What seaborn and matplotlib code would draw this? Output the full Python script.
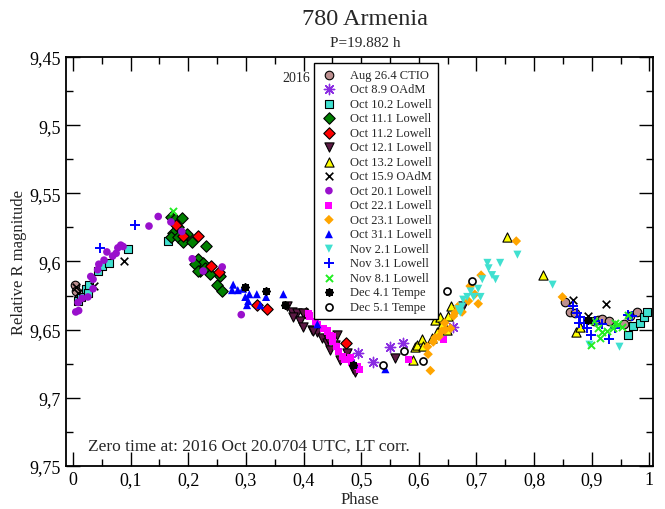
import matplotlib.pyplot as plt
import seaborn as sns
import pandas as pd
from matplotlib.ticker import MultipleLocator, FuncFormatter

sns.set_style("ticks")
plt.switch_backend('Agg')
plt.rcParams['font.family'] = ['Liberation Serif', 'DejaVu Serif']

# ---- data (phase, relative R magnitude) per session ----
aug26_x = [0.003, 0.006, 0.854, 0.863, 0.870, 0.903, 0.910, 0.918, 0.929, 0.955, 0.967, 0.979]
aug26_y = [9.617, 9.622, 9.630, 9.637, 9.638, 9.644, 9.643, 9.642, 9.644, 9.646, 9.640, 9.637]

oct08_x = [0.495, 0.521, 0.550, 0.573, 0.660]
oct08_y = [9.667, 9.674, 9.6625, 9.660, 9.648]

oct10_x = [0.009, 0.014, 0.023, 0.026, 0.028, 0.043, 0.050, 0.063, 0.095, 0.165,
           0.962, 0.972, 0.984, 0.990, 0.995]
oct10_y = [9.629, 9.626, 9.620, 9.623, 9.617, 9.607, 9.603, 9.601, 9.591, 9.585,
           9.654, 9.647, 9.645, 9.641, 9.637]

oct11a_x = [0.170, 0.177, 0.189, 0.182, 0.174, 0.170, 0.182, 0.191, 0.206, 0.198, 0.231,
            0.217, 0.226, 0.212, 0.220, 0.238, 0.255, 0.250, 0.259, 0.217, 0.229]
oct11a_y = [9.567, 9.569, 9.568, 9.575, 9.579, 9.582, 9.582, 9.586, 9.586, 9.580, 9.589,
            9.598, 9.601, 9.602, 9.607, 9.609, 9.611, 9.617, 9.622, 9.607, 9.605]

oct11b_x = [0.179, 0.191, 0.217, 0.240, 0.253, 0.319, 0.337, 0.405, 0.474]
oct11b_y = [9.5735, 9.581, 9.581, 9.603, 9.608, 9.632, 9.635, 9.6375, 9.660]

oct12_x = [0.372, 0.380, 0.389, 0.399, 0.382, 0.394, 0.399, 0.415, 0.424, 0.432, 0.441,
           0.458, 0.446, 0.464, 0.476, 0.455, 0.486, 0.490, 0.559, 0.677, 0.417, 0.443]
oct12_y = [9.633, 9.637, 9.6375, 9.6375, 9.641, 9.644, 9.648, 9.650, 9.652, 9.656, 9.660,
           9.654, 9.665, 9.672, 9.667, 9.661, 9.679, 9.681, 9.671, 9.633, 9.651, 9.657]

oct13_x = [0.590, 0.594, 0.597, 0.606, 0.608, 0.623, 0.628, 0.632, 0.637, 0.640, 0.649,
           0.651, 0.656, 0.753, 0.816, 0.872, 0.880]
oct13_y = [9.672, 9.6625, 9.661, 9.657, 9.662, 9.656, 9.643, 9.652, 9.641, 9.646, 9.650,
           9.640, 9.633, 9.582, 9.610, 9.652, 9.648]

oct15_x = [0.005, 0.009, 0.036, 0.089, 0.868, 0.894, 0.924]
oct15_y = [9.619, 9.623, 9.618, 9.600, 9.628, 9.640, 9.631]

oct20_x = [0.005, 0.010, 0.009, 0.016, 0.026, 0.031, 0.035, 0.035, 0.043, 0.045, 0.054,
           0.059, 0.069, 0.075, 0.078, 0.083, 0.087, 0.132, 0.148, 0.170, 0.189, 0.207,
           0.226, 0.259, 0.292]
oct20_y = [9.637, 9.636, 9.630, 9.627, 9.626, 9.611, 9.613, 9.620, 9.606, 9.602, 9.599,
           9.593, 9.596, 9.594, 9.590, 9.588, 9.589, 9.574, 9.567, 9.571, 9.578, 9.598,
           9.607, 9.604, 9.639]

oct22_x = [0.408, 0.411, 0.420, 0.425, 0.434, 0.441, 0.446, 0.450, 0.451, 0.458, 0.460,
           0.467, 0.472, 0.481, 0.484, 0.493, 0.497, 0.582, 0.642]
oct22_y = [9.638, 9.640, 9.644, 9.646, 9.649, 9.651, 9.654, 9.655, 9.659, 9.6625, 9.666,
           9.670, 9.672, 9.6705, 9.674, 9.677, 9.679, 9.672, 9.657]

oct23_x = [0.615, 0.616, 0.620, 0.625, 0.628, 0.635, 0.640, 0.646, 0.655, 0.660, 0.663,
           0.675, 0.689, 0.686, 0.703, 0.697, 0.708, 0.769, 0.849, 0.645, 0.668]
oct23_y = [9.6625, 9.668, 9.680, 9.659, 9.656, 9.655, 9.651, 9.650, 9.649, 9.640, 9.6375,
           9.637, 9.618, 9.629, 9.631, 9.624, 9.610, 9.585, 9.626, 9.645, 9.633]

oct31_x = [0.276, 0.278, 0.286, 0.295, 0.299, 0.304, 0.306, 0.319, 0.325, 0.335, 0.365,
           0.302, 0.424, 0.488, 0.542]
oct31_y = [9.621, 9.617, 9.621, 9.620, 9.626, 9.629, 9.624, 9.624, 9.632, 9.626, 9.624,
           9.632, 9.646, 9.675, 9.679]

nov02_x = [0.669, 0.672, 0.675, 0.677, 0.684, 0.695, 0.703, 0.707, 0.710, 0.719, 0.721,
           0.727, 0.733, 0.741, 0.771, 0.832, 0.896, 0.948, 0.690]
nov02_y = [9.635, 9.6375, 9.633, 9.628, 9.626, 9.626, 9.620, 9.626, 9.613, 9.601, 9.605,
           9.610, 9.613, 9.601, 9.595, 9.617, 9.661, 9.6625, 9.622]

nov03_x = [0.047, 0.108, 0.868, 0.875, 0.880, 0.886, 0.877, 0.892, 0.898, 0.906, 0.918,
           0.929, 0.941, 0.970, 0.962]
nov03_y = [9.590, 9.5735, 9.633, 9.6375, 9.641, 9.645, 9.645, 9.6485, 9.654, 9.644, 9.646,
           9.657, 9.6485, 9.640, 9.639]

nov08_x = [0.174, 0.898, 0.903, 0.910, 0.915, 0.918, 0.927, 0.936, 0.941, 0.946, 0.953, 0.962]
nov08_y = [9.563, 9.661, 9.644, 9.6485, 9.656, 9.652, 9.651, 9.6485, 9.645, 9.646, 9.648, 9.639]

dec04_x = [0.299, 0.335, 0.368, 0.486, 0.893]
dec04_y = [9.619, 9.622, 9.632, 9.676, 9.643]

dec05_x = [0.538, 0.575, 0.607, 0.649, 0.692]
dec05_y = [9.676, 9.666, 9.673, 9.622, 9.614]

# label, x, y, marker, face colour, edge colour, size, line width
sessions = [
    ("Aug 26.4 CTIO", aug26_x, aug26_y, "o", "#bc8f8f", "black", 38, 0.8),
    ("Oct 8.9 OAdM", oct08_x, oct08_y, (8, 2, 0), "#8a2be2", "#8a2be2", 55, 1.0),
    ("Oct 10.2 Lowell", oct10_x, oct10_y, "s", "#40e0d0", "black", 38, 0.8),
    ("Oct 11.1 Lowell", oct11a_x, oct11a_y, "D", "#008000", "black", 34, 0.8),
    ("Oct 11.2 Lowell", oct11b_x, oct11b_y, "D", "#ff0000", "black", 34, 0.8),
    ("Oct 12.1 Lowell", oct12_x, oct12_y, "v", "#5c1a44", "black", 44, 0.8),
    ("Oct 13.2 Lowell", oct13_x, oct13_y, "^", "#ffff00", "black", 44, 0.8),
    ("Oct 15.9 OAdM", oct15_x, oct15_y, "x", "black", "black", 30, 1.2),
    ("Oct 20.1 Lowell", oct20_x, oct20_y, "o", "#9910cc", "none", 30, 0),
    ("Oct 22.1 Lowell", oct22_x, oct22_y, "s", "#ff00ff", "none", 26, 0),
    ("Oct 23.1 Lowell", oct23_x, oct23_y, "D", "#ffa500", "none", 24, 0),
    ("Oct 31.1 Lowell", oct31_x, oct31_y, "^", "#0000ff", "none", 34, 0),
    ("Nov 2.1 Lowell", nov02_x, nov02_y, "v", "#40e0d0", "none", 34, 0),
    ("Nov 3.1 Lowell", nov03_x, nov03_y, "+", "#0000ff", "#0000ff", 50, 1.4),
    ("Nov 8.1 Lowell", nov08_x, nov08_y, "x", "#22ee22", "#22ee22", 26, 1.4),
    ("Dec 4.1 Tempe", dec04_x, dec04_y, (8, 2, 0), "black", "black", 24, 1.4),
    ("Dec 5.1 Tempe", dec05_x, dec05_y, "o", "white", "black", 26, 1.2),
]

fig = plt.figure(figsize=(6.65, 5.1), dpi=100)
ax = fig.add_axes([0.0992, 0.0843, 0.8835, 0.8020])

for label, xs, ys, mk, fc, ec, size, lw in sessions:
    df = pd.DataFrame({'phase': xs, 'mag': ys})
    sns.scatterplot(data=df, x='phase', y='mag', marker=mk, color=fc, edgecolor=ec,
                    s=size, linewidth=lw, label=label, ax=ax)

ax.set_xlim(-0.012, 1.007)
ax.set_ylim(9.75, 9.45)

ax.xaxis.set_major_locator(MultipleLocator(0.1))
ax.xaxis.set_minor_locator(MultipleLocator(0.05))
ax.yaxis.set_major_locator(MultipleLocator(0.05))
ax.yaxis.set_minor_locator(MultipleLocator(0.025))
comma = FuncFormatter(lambda v, p: f"{round(v, 3):g}".replace('.', ','))
ax.xaxis.set_major_formatter(comma)
ax.yaxis.set_major_formatter(comma)
ax.tick_params(which='both', direction='in', top=True, right=True, colors='black',
               labelsize=13, width=1.0)
ax.tick_params(which='major', length=10)
ax.tick_params(which='minor', length=5)
for sp in ax.spines.values():
    sp.set_linewidth(1.3)
    sp.set_color('black')

ax.set_xlabel('Phase', fontsize=12, labelpad=2)
ax.set_ylabel('Relative R magnitude', fontsize=12, labelpad=2)

fig.text(0.549, 0.962, '780 Armenia', ha='center', va='center', fontsize=17.5)
fig.text(0.549, 0.914, 'P=19.882 h', ha='center', va='center', fontsize=11)
ax.text(0.416, 0.951, '2016', transform=ax.transAxes, ha='right', va='center', fontsize=10)
ax.text(0.0375, 0.049, 'Zero time at: 2016 Oct 20.0704 UTC, LT corr.',
        transform=ax.transAxes, ha='left', va='center', fontsize=12.5)

leg = ax.legend(loc='upper left', bbox_to_anchor=(0.422, 0.986), fontsize=9,
                frameon=True, fancybox=False, edgecolor='black', framealpha=1,
                labelspacing=0.2, handletextpad=1.0, borderpad=0.5,
                handlelength=1.4, borderaxespad=0)
leg.get_frame().set_linewidth(1.0)

plt.savefig('out.png', dpi=100)
plt.close()
